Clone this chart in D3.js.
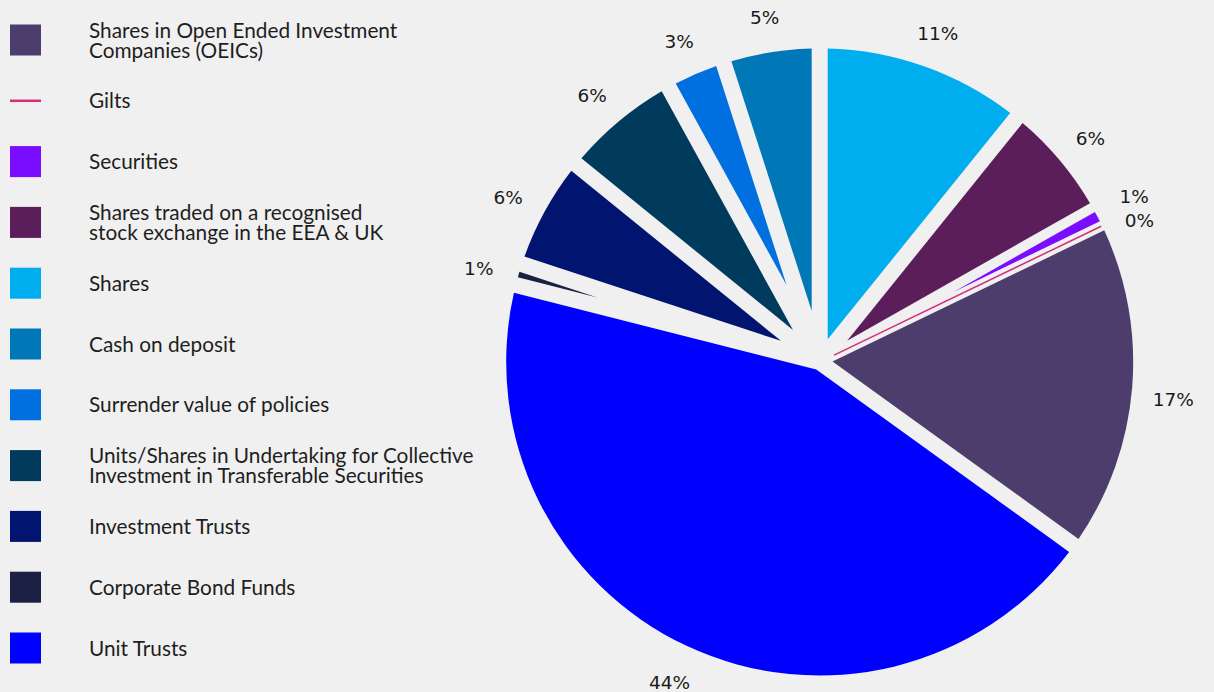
<!DOCTYPE html>
<html>
<head>
<meta charset="utf-8">
<script src="https://cdn.jsdelivr.net/npm/d3@7"></script>
<style>
  html, body { margin: 0; padding: 0; background: #f0f0f0; }
  svg { display: block; }
</style>
</head>
<body>
<svg id="chart" width="1214" height="692"></svg>
<script>
// Holdings by asset type, as a percentage of total value (legend order)
const categories = [
  "Shares in Open Ended Investment Companies (OEICs)",
  "Gilts",
  "Securities",
  "Shares traded on a recognised stock exchange in the EEA & UK",
  "Shares",
  "Cash on deposit",
  "Surrender value of policies",
  "Units/Shares in Undertaking for Collective Investment in Transferable Securities",
  "Investment Trusts",
  "Corporate Bond Funds",
  "Unit Trusts"
];

// How each legend entry wraps
const legendLines = [
  ["Shares in Open Ended Investment", "Companies (OEICs)"],
  ["Gilts"],
  ["Securities"],
  ["Shares traded on a recognised", "stock exchange in the EEA & UK"],
  ["Shares"],
  ["Cash on deposit"],
  ["Surrender value of policies"],
  ["Units/Shares in Undertaking for Collective", "Investment in Transferable Securities"],
  ["Investment Trusts"],
  ["Corporate Bond Funds"],
  ["Unit Trusts"]
];

const percentages = [17.1, 0, 1.05, 6.0, 10.8, 4.95, 3.05, 6.15, 5.8, 1.1, 44.0];

const colors = [
  "#4c3d6c", "#d1307c", "#7a0cff", "#5c1e5a", "#00aeef", "#0077b6",
  "#0070e0", "#003a5c", "#001470", "#1b2044", "#0000ff"
];

// Slices run clockwise from twelve o'clock in this order
const sliceOrder = [
  "Shares",
  "Shares traded on a recognised stock exchange in the EEA & UK",
  "Securities",
  "Gilts",
  "Shares in Open Ended Investment Companies (OEICs)",
  "Unit Trusts",
  "Corporate Bond Funds",
  "Investment Trusts",
  "Units/Shares in Undertaking for Collective Investment in Transferable Securities",
  "Surrender value of policies",
  "Cash on deposit"
];

// ---- layout / style ----
const W = 1214, H = 692;
const cx = 819.7, cy = 362, R = 313.5;
const halfGap = 8;          // gap either side of a slice boundary
const narrowHalfGap = 5;    // tighter gap next to the smallest holdings
const narrowGapCats = new Set(["Gilts", "Securities"]);
const labelRadius = 355;
const labelDrop = 6;
const labelMaxY = H - cy - 10;   // keep the lowest label inside the frame
const bg = "#f0f0f0";

const svg = d3.select("#chart");
svg.append("rect").attr("width", W).attr("height", H).attr("fill", bg);

const records = categories.map((c, i) => ({ cat: c, value: percentages[i], color: colors[i], lines: legendLines[i] }));
const byCat = new Map(records.map(r => [r.cat, r]));
const ordered = sliceOrder.map(c => byCat.get(c));

const pie = d3.pie().sort(null).value(d => d.value);
const arcs = pie(ordered);

const color = d3.scaleOrdinal().domain(categories).range(colors);

// half-gap on the boundary between slice i-1 and slice i
const boundaryGap = arcs.map((d, i) => {
  const prev = arcs[(i - 1 + arcs.length) % arcs.length];
  return (narrowGapCats.has(d.data.cat) || narrowGapCats.has(prev.data.cat)) ? narrowHalfGap : halfGap;
});

// A wedge whose straight edges are pulled in parallel by h0 / h1 pixels
function insetWedge(a0, a1, h0, h1, r) {
  const span = a1 - a0;
  const det = Math.sin(span);
  const ax = (h0 * Math.sin(a1) + h1 * Math.sin(a0)) / det;
  const ay = -(h1 * Math.cos(a0) + h0 * Math.cos(a1)) / det;
  const s = a0 + Math.asin(h0 / r);
  const e = a1 - Math.asin(h1 / r);
  if (e <= s || Math.hypot(ax, ay) >= r) return null;
  const p = d3.path();
  p.moveTo(ax, ay);
  p.arc(0, 0, r, s - Math.PI / 2, e - Math.PI / 2);
  p.closePath();
  return p.toString();
}

const g = svg.append("g").attr("transform", `translate(${cx},${cy})`);

arcs.forEach((d, i) => {
  const h0 = boundaryGap[i];
  const h1 = boundaryGap[(i + 1) % arcs.length];
  if (d.endAngle - d.startAngle < 1e-6) {
    // zero-size holding: drawn as a hairline along its angle
    const a = d.startAngle;
    g.append("line")
      .attr("x1", 16 * Math.sin(a)).attr("y1", -16 * Math.cos(a))
      .attr("x2", (R - 1) * Math.sin(a)).attr("y2", -(R - 1) * Math.cos(a))
      .attr("stroke", color(d.data.cat)).attr("stroke-width", 1.5);
    return;
  }
  const path = insetWedge(d.startAngle, d.endAngle, h0, h1, R);
  if (path) g.append("path").attr("d", path).attr("fill", color(d.data.cat));
});

// ---- percentage labels ----
const fmt = v => d3.format(".0f")(v) + "%";
const labels = arcs.map(d => {
  const a = (d.startAngle + d.endAngle) / 2;
  return {
    text: fmt(d.data.value),
    x: labelRadius * Math.sin(a),
    y: Math.min(-labelRadius * Math.cos(a) + labelDrop, labelMaxY)
  };
});
// keep neighbouring labels on the same side from overlapping
["right", "left"].forEach(side => {
  const group = labels.filter(l => side === "right" ? l.x > 0 : l.x <= 0).sort((a, b) => a.y - b.y);
  for (let iter = 0; iter < 20; iter++) {
    for (let k = 1; k < group.length; k++) {
      const lo = group[k - 1], hi = group[k];
      const minGap = 24;
      if (hi.y - lo.y < minGap && Math.abs(hi.x - lo.x) < 45) {
        const push = (minGap - (hi.y - lo.y)) / 2;
        lo.y -= push; hi.y += push;
      }
    }
  }
});
g.selectAll("text.pct")
  .data(labels)
  .join("text")
  .attr("class", "pct")
  .attr("x", d => d.x)
  .attr("y", d => d.y)
  .attr("text-anchor", "middle")
  .attr("dominant-baseline", "central")
  .attr("font-family", "'DejaVu Sans', sans-serif")
  .attr("font-size", 18.5)
  .attr("fill", "#1a1a1a")
  .text(d => d.text);

// ---- legend ----
const legendY = d3.scalePoint().domain(categories).range([40, 648]);
const legend = svg.append("g").attr("class", "legend");
const sw = 31, lineH = 20, capH = 15;
records.forEach(r => {
  const yc = legendY(r.cat);
  if (r.value === 0) {
    legend.append("line")
      .attr("x1", 10).attr("x2", 10 + sw)
      .attr("y1", yc).attr("y2", yc)
      .attr("stroke", r.color).attr("stroke-width", 2.5);
  } else {
    legend.append("rect")
      .attr("x", 10).attr("y", yc - sw / 2)
      .attr("width", sw).attr("height", sw)
      .attr("fill", r.color);
  }
  const t = legend.append("text")
    .attr("font-family", "Lato, sans-serif")
    .attr("font-size", 20.8)
    .attr("fill", "#1e1e1e");
  const n = r.lines.length;
  r.lines.forEach((ln, k) => {
    t.append("tspan")
      .attr("x", 89)
      .attr("y", yc + capH / 2 - (n - 1) * lineH / 2 + k * lineH)
      .text(ln);
  });
});
</script>
</body>
</html>
